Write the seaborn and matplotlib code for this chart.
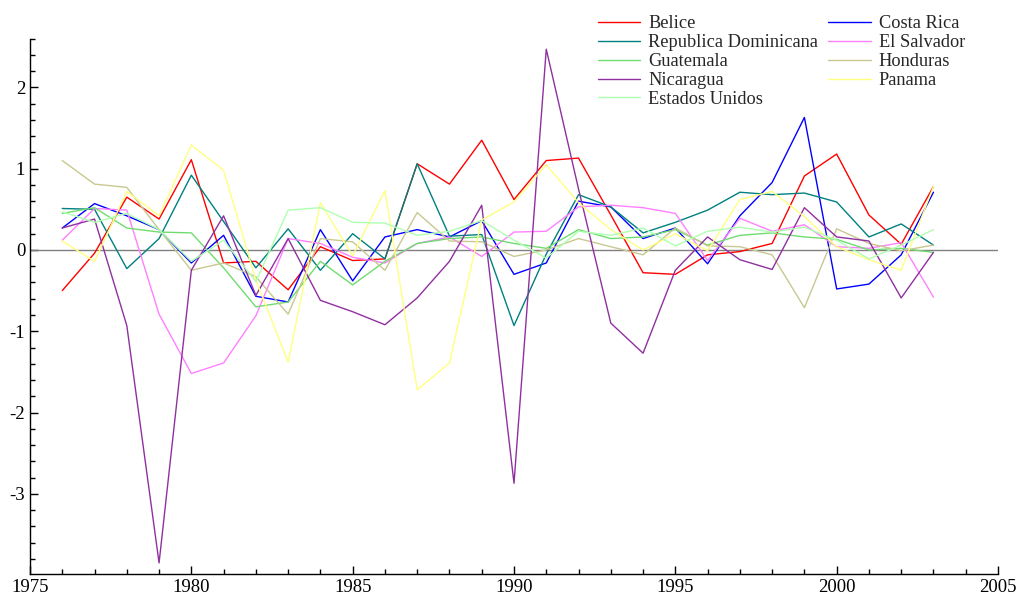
import numpy as np
import pandas as pd
import matplotlib
matplotlib.use("Agg")
import matplotlib.pyplot as plt
import seaborn as sns

years = list(range(1976, 2004))

belice = [-0.50, -0.04, 0.65, 0.38, 1.11, -0.16, -0.14, -0.49, 0.04, -0.13, -0.11, 1.06, 0.81, 1.35,
          0.62, 1.10, 1.13, 0.43, -0.28, -0.30, -0.06, -0.02, 0.08, 0.91, 1.18, 0.43, 0.07, 0.78]
costa_rica = [0.27, 0.57, 0.42, 0.25, -0.16, 0.18, -0.57, -0.64, 0.25, -0.38, 0.16, 0.25, 0.16, 0.36,
              -0.30, -0.16, 0.60, 0.53, 0.14, 0.27, -0.17, 0.42, 0.83, 1.63, -0.48, -0.42, -0.06, 0.71]
rep_dom = [0.51, 0.50, -0.23, 0.14, 0.92, 0.35, -0.22, 0.26, -0.25, 0.20, -0.11, 1.06, 0.17, 0.19,
           -0.93, -0.05, 0.68, 0.53, 0.21, 0.34, 0.49, 0.71, 0.68, 0.70, 0.59, 0.16, 0.32, 0.06]
el_salvador = [0.12, 0.51, 0.49, -0.79, -1.52, -1.39, -0.81, 0.14, 0.08, -0.09, -0.16, 0.08, 0.16, -0.08,
               0.22, 0.23, 0.53, 0.55, 0.52, 0.45, -0.13, 0.39, 0.23, 0.31, 0.04, 0.02, 0.09, -0.58]
guatemala = [0.45, 0.52, 0.27, 0.22, 0.21, -0.22, -0.70, -0.64, -0.14, -0.43, -0.14, 0.08, 0.14, 0.16,
             0.08, 0.02, 0.25, 0.14, 0.16, 0.25, 0.06, 0.18, 0.21, 0.16, 0.13, 0.00, 0.02, -0.03]
honduras = [1.10, 0.81, 0.77, 0.25, -0.25, -0.16, -0.33, -0.79, 0.14, 0.10, -0.25, 0.46, 0.11, 0.10,
            -0.08, 0.00, 0.14, 0.04, -0.06, 0.27, 0.05, 0.04, -0.06, -0.71, 0.26, 0.08, -0.01, 0.06]
nicaragua = [0.27, 0.38, -0.93, -3.85, -0.25, 0.42, -0.56, 0.14, -0.62, -0.76, -0.92, -0.59, -0.14, 0.55,
             -2.87, 2.47, 0.75, -0.90, -1.27, -0.25, 0.16, -0.12, -0.24, 0.52, 0.16, 0.11, -0.59, -0.03]
panama = [0.11, -0.14, 0.72, 0.42, 1.29, 0.98, -0.37, -1.38, 0.58, -0.07, 0.73, -1.72, -1.39, 0.37,
          0.59, 1.05, 0.58, 0.25, 0.00, 0.20, -0.01, 0.62, 0.72, 0.41, 0.04, -0.12, -0.25, 0.78]
estados_unidos = [0.47, 0.34, 0.45, 0.25, -0.14, 0.12, -0.39, 0.49, 0.52, 0.34, 0.33, 0.18, 0.23, 0.36,
                  0.12, -0.10, 0.23, 0.18, 0.27, 0.05, 0.23, 0.28, 0.22, 0.28, 0.12, -0.11, 0.06, 0.25]

countries = ["Belice", "Costa Rica", "Republica Dominicana", "El Salvador", "Guatemala",
             "Honduras", "Nicaragua", "Panama", "Estados Unidos"]
series = [belice, costa_rica, rep_dom, el_salvador, guatemala, honduras, nicaragua, panama, estados_unidos]
colors = ["#ff0000", "#0000ff", "#008080", "#ff80ff", "#70dc70",
          "#c8c890", "#9030a0", "#ffff80", "#b0ffb0"]

df = pd.DataFrame({
    "year": years * len(countries),
    "value": [v for s in series for v in s],
    "country": [c for c in countries for _ in years],
})

sns.set_style("white")
plt.rcParams["font.family"] = ["Liberation Serif", "DejaVu Serif"]
plt.rcParams["axes.unicode_minus"] = False

fig = plt.figure(figsize=(10.16, 5.99), dpi=100)
ax = fig.add_axes([30 / 1016, 1 - 574.3 / 599, (998 - 30) / 1016, (574.3 - 38.6) / 599])

ax.axhline(0, color="#808080", lw=1.0, zorder=1)
sns.lineplot(data=df, x="year", y="value", hue="country", hue_order=countries,
             palette=dict(zip(countries, colors)), lw=1.0, ax=ax, legend=True, zorder=2)

ax.set_xlim(1975, 2005)
ax.set_ylim(-3.99, 2.6)
ax.set_xticks(range(1975, 2006, 5))
ax.set_xticks(range(1975, 2006, 1), minor=True)
ax.set_yticks(range(-3, 3))
ax.set_yticks(np.arange(-3.8, 2.61, 0.2), minor=True)
ax.set_xlabel("")
ax.set_ylabel("")
for s in ["top", "right"]:
    ax.spines[s].set_visible(False)
for s in ["left", "bottom"]:
    ax.spines[s].set_color("black")
    ax.spines[s].set_linewidth(1.0)
ax.tick_params(which="major", direction="in", length=6, width=1, labelsize=13.5, colors="black")
ax.tick_params(which="minor", direction="in", length=3.5, width=1, colors="black")
ax.tick_params(axis="y", which="both", left=True)
ax.tick_params(axis="x", which="both", bottom=True)

handles, labels = ax.get_legend_handles_labels()
hmap = dict(zip(labels, handles))
order = ["Belice", "Republica Dominicana", "Guatemala", "Nicaragua", "Estados Unidos",
         "Costa Rica", "El Salvador", "Honduras", "Panama"]
ax.legend([hmap[k] for k in order], order, ncol=2, frameon=False,
          loc="upper left", bbox_to_anchor=(598 / 1016, 1 - 15.5 / 599),
          bbox_transform=fig.transFigure, borderpad=0, borderaxespad=0,
          handlelength=2.3, handletextpad=0.45, columnspacing=0.55,
          labelspacing=0.1, fontsize=13.2)

fig.savefig("out.png", dpi=100)
